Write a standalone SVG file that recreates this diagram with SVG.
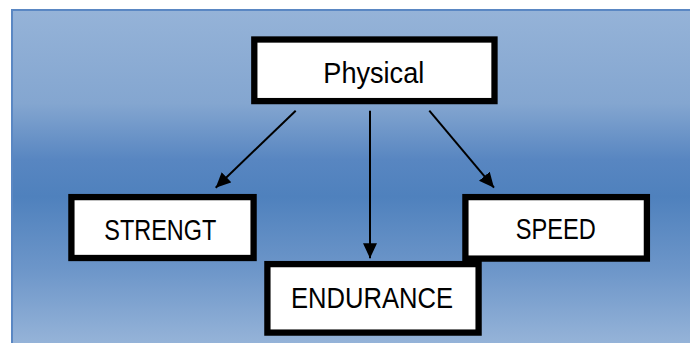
<svg xmlns="http://www.w3.org/2000/svg" width="690" height="343" viewBox="0 0 690 343">
  <defs>
    <linearGradient id="bg" x1="0" y1="10" x2="0" y2="343" gradientUnits="userSpaceOnUse">
      <stop offset="0" stop-color="#95b3d8"/>
      <stop offset="0.28" stop-color="#84a6d0"/>
      <stop offset="0.45" stop-color="#5886c1"/>
      <stop offset="0.56" stop-color="#4f81bd"/>
      <stop offset="0.78" stop-color="#6d96c9"/>
      <stop offset="1" stop-color="#95b3d8"/>
    </linearGradient>
    <marker id="arrow" markerUnits="userSpaceOnUse" markerWidth="16" markerHeight="15" refX="15" refY="7" orient="auto">
      <path d="M0,0 L15,7 L0,14 z" fill="#000"/>
    </marker>
    <style>
      .box { fill: #ffffff; stroke: #000000; stroke-width: 6.3; }
      .lbl { font-family: "Liberation Sans", Arial, sans-serif; font-size: 29px; fill: #000000; }
      .conn { stroke: #000000; stroke-width: 2; fill: none; marker-end: url(#arrow); }
    </style>
  </defs>
  <rect x="0" y="0" width="690" height="343" fill="#ffffff"/>
  <rect id="panel" x="12" y="10" width="700" height="360" fill="url(#bg)" stroke="#5a87c3" stroke-width="2"/>

  <g id="connectors">
    <line class="conn" x1="295.7" y1="110.7" x2="215.7" y2="187.7"/>
    <line class="conn" x1="370" y1="110.7" x2="370" y2="258.3"/>
    <line class="conn" x1="429.3" y1="110.7" x2="494" y2="187.7"/>
  </g>

  <g id="physical">
    <rect class="box" x="254.3" y="39.5" width="240.2" height="61.6"/>
    <text class="lbl" x="323.3" y="83.3" textLength="101" lengthAdjust="spacingAndGlyphs">Physical</text>
  </g>
  <g id="strengt">
    <rect class="box" x="71.4" y="197.1" width="182.2" height="60.9"/>
    <text class="lbl" x="104.3" y="240" textLength="112" lengthAdjust="spacingAndGlyphs">STRENGT</text>
  </g>
  <g id="speed">
    <rect class="box" x="465.4" y="197.1" width="181.5" height="61.5"/>
    <text class="lbl" x="515.7" y="238.8" textLength="80" lengthAdjust="spacingAndGlyphs">SPEED</text>
  </g>
  <g id="endurance">
    <rect class="box" x="267.4" y="264.1" width="211.2" height="68.5"/>
    <text class="lbl" x="291" y="307.7" textLength="162" lengthAdjust="spacingAndGlyphs">ENDURANCE</text>
  </g>
</svg>
